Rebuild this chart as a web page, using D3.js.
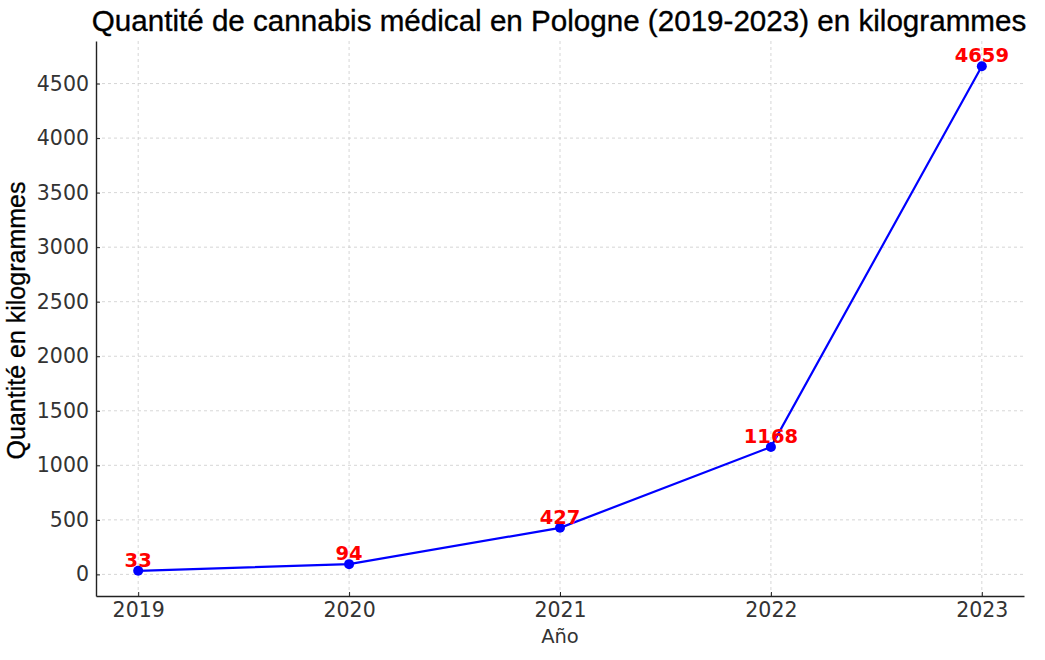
<!DOCTYPE html>
<html><head><meta charset="utf-8">
<script src="https://cdn.jsdelivr.net/npm/d3@7"></script>
<style>body{margin:0;background:#fff}</style>
</head><body>
<svg id="c" width="1045" height="660"></svg>
<script>
const years = [2019, 2020, 2021, 2022, 2023];
const values = [33, 94, 427, 1168, 4659];
const yTicks = [0, 500, 1000, 1500, 2000, 2500, 3000, 3500, 4000, 4500];
const titleText = "Quantité de cannabis médical en Pologne (2019-2023) en kilogrammes";
const xLabel = "Año";
const yLabel = "Quantité en kilogrammes";

const svg = d3.select("#c");
const L = 96, R = 1024, T = 41, B = 596;
const x = d3.scaleLinear().domain([2018.8, 2023.2]).range([L, R]);
const y = d3.scaleLinear().domain([-198, 4890]).range([B, T]);

// grid
const g = svg.append("g");
g.selectAll(".gx").data(years).enter().append("line")
  .attr("x1", d => x(d)).attr("x2", d => x(d)).attr("y1", T).attr("y2", B)
  .attr("stroke", "#cccccc").attr("stroke-width", 0.8).attr("stroke-dasharray", "3,3");
g.selectAll(".gy").data(yTicks).enter().append("line")
  .attr("x1", L).attr("x2", R).attr("y1", d => y(d)).attr("y2", d => y(d))
  .attr("stroke", "#cccccc").attr("stroke-width", 0.8).attr("stroke-dasharray", "3,3");

// axes
const xa = svg.append("g").attr("transform", `translate(0,${B})`)
  .call(d3.axisBottom(x).tickValues(years).tickFormat(d3.format("d")).tickSizeInner(-4).tickSizeOuter(0).tickPadding(6));
const ya = svg.append("g").attr("transform", `translate(${L},0)`)
  .call(d3.axisLeft(y).tickValues(yTicks).tickFormat(d3.format("d")).tickSizeInner(-4).tickSizeOuter(0).tickPadding(7));
[xa, ya].forEach(a => {
  a.select(".domain").attr("stroke", "#222").attr("stroke-width", 1.4);
  a.selectAll(".tick line").attr("stroke", "#222").attr("stroke-width", 1);
  a.selectAll(".tick text").attr("font-family", "DejaVu Sans").attr("font-size", 20.5).attr("fill", "#333");
});
xa.selectAll(".tick text").attr("dy", "0.71em");

// line
svg.append("path").datum(values)
  .attr("d", d3.line().x((d, i) => x(years[i])).y(d => y(d)))
  .attr("fill", "none").attr("stroke", "#0000ff").attr("stroke-width", 2.2);
svg.selectAll(".pt").data(values).enter().append("circle")
  .attr("cx", (d, i) => x(years[i])).attr("cy", d => y(d)).attr("r", 5)
  .attr("fill", "#0000ff");
svg.selectAll(".lbl").data(values).enter().append("text")
  .attr("x", (d, i) => x(years[i])).attr("y", d => y(d) - 4)
  .attr("text-anchor", "middle").attr("font-family", "DejaVu Sans").attr("font-weight", "bold")
  .attr("font-size", 19.5).attr("fill", "#ff0000").text(d => d);

// titles
svg.append("text").attr("x", (L + R) / 2 - 1).attr("y", 31).attr("text-anchor", "middle")
  .attr("font-family", "Liberation Sans, Arial").attr("font-size", 29.6).attr("fill", "#000")
  .attr("stroke", "#000").attr("stroke-width", 0.35).text(titleText);
svg.append("text").attr("x", (L + R) / 2).attr("y", 643).attr("text-anchor", "middle")
  .attr("font-family", "DejaVu Sans").attr("font-size", 19.5).attr("fill", "#333").text(xLabel);
svg.append("text").attr("transform", `translate(25,${(T + B) / 2 + 2}) rotate(-90)`).attr("text-anchor", "middle")
  .attr("font-family", "Liberation Sans, Arial").attr("font-size", 25).attr("fill", "#000")
  .attr("stroke", "#000").attr("stroke-width", 0.3).text(yLabel);
</script>
</body></html>
